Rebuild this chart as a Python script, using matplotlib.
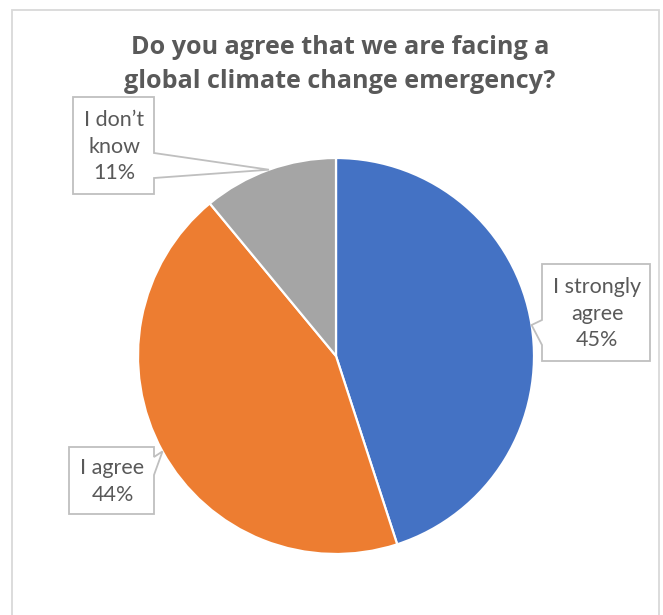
import numpy as np
import matplotlib.pyplot as plt
from matplotlib.patches import Polygon, Rectangle

# data
categories = ["I strongly\nagree", "I agree", "I don\u2019t\nknow"]
shares = [45, 44, 11]
colors = ["#4472C4", "#ED7D31", "#A5A5A5"]
title_lines = ["Do you agree that we are facing a", "global climate change emergency?"]

W, H = 663, 615
cx, cy, R = 336, 356, 198   # pie centre / radius in pixels

fig = plt.figure(figsize=(W / 100, H / 100), dpi=100)
ax = fig.add_axes([0, 0, 1, 1])

def px(x, y):
    # pixel (from top-left) -> data coords
    return ((x - cx) / R, (cy - y) / R)

# chart frame
fig.patches.append(Rectangle((12 / W, -0.05), (659 - 12) / W, 1 - 10 / H + 0.05,
                             transform=fig.transFigure, fill=False,
                             edgecolor="#d9d9d9", linewidth=1.3))

wedges, _ = ax.pie(shares, colors=colors, startangle=90, counterclock=False,
                   radius=1, wedgeprops=dict(edgecolor="white", linewidth=1.6))
ax.set_aspect("auto")
ax.set_xlim(-cx / R, (W - cx) / R)
ax.set_ylim(-(H - cy) / R, cy / R)
ax.axis("off")

txt = "#595959"
font = "Lato"

# title: two lines on fixed baselines, size fitted to the reference width
renderer = fig.canvas.get_renderer()
for line, base, target in zip(title_lines, [54, 88], [417, 431]):
    t = ax.text(*px(cx + 4, base), line, ha="center", va="baseline", fontsize=16,
                fontweight="bold", color=txt, family="Open Sans")
    w = t.get_window_extent(renderer).width
    t.set_fontsize(16 * target / w)

# callouts: box (left, top, right, bottom) in px, side of pointer, pointer span
boxes = [
    ((542, 264, 650, 361), "left", (320, 345)),
    ((69, 447, 154, 514), "right", (457, 475)),
    ((73, 97, 154, 194), "right", (153, 178)),
]

for w, lab, share, (box, side, span) in zip(wedges, categories, shares, boxes):
    mid = np.deg2rad((w.theta1 + w.theta2) / 2)
    tip = (np.cos(mid), np.sin(mid))
    l, t, r, b = box
    if side == "right":
        pts = [px(l, t), px(r, t), px(r, span[0]), tip, px(r, span[1]), px(r, b), px(l, b)]
    else:
        pts = [px(l, t), px(r, t), px(r, b), px(l, b), px(l, span[1]), tip, px(l, span[0])]
    ax.add_patch(Polygon(pts, closed=True, facecolor="white", edgecolor="#bfbfbf",
                         linewidth=1.3, zorder=3))
    ax.text(*px((l + r) / 2 + 1, (t + b) / 2 + 1), f"{lab}\n{share}%", ha="center", va="center",
            fontsize=15.5, color=txt, family=font, linespacing=1.38, zorder=4)

fig.savefig("out.png", dpi=100)
